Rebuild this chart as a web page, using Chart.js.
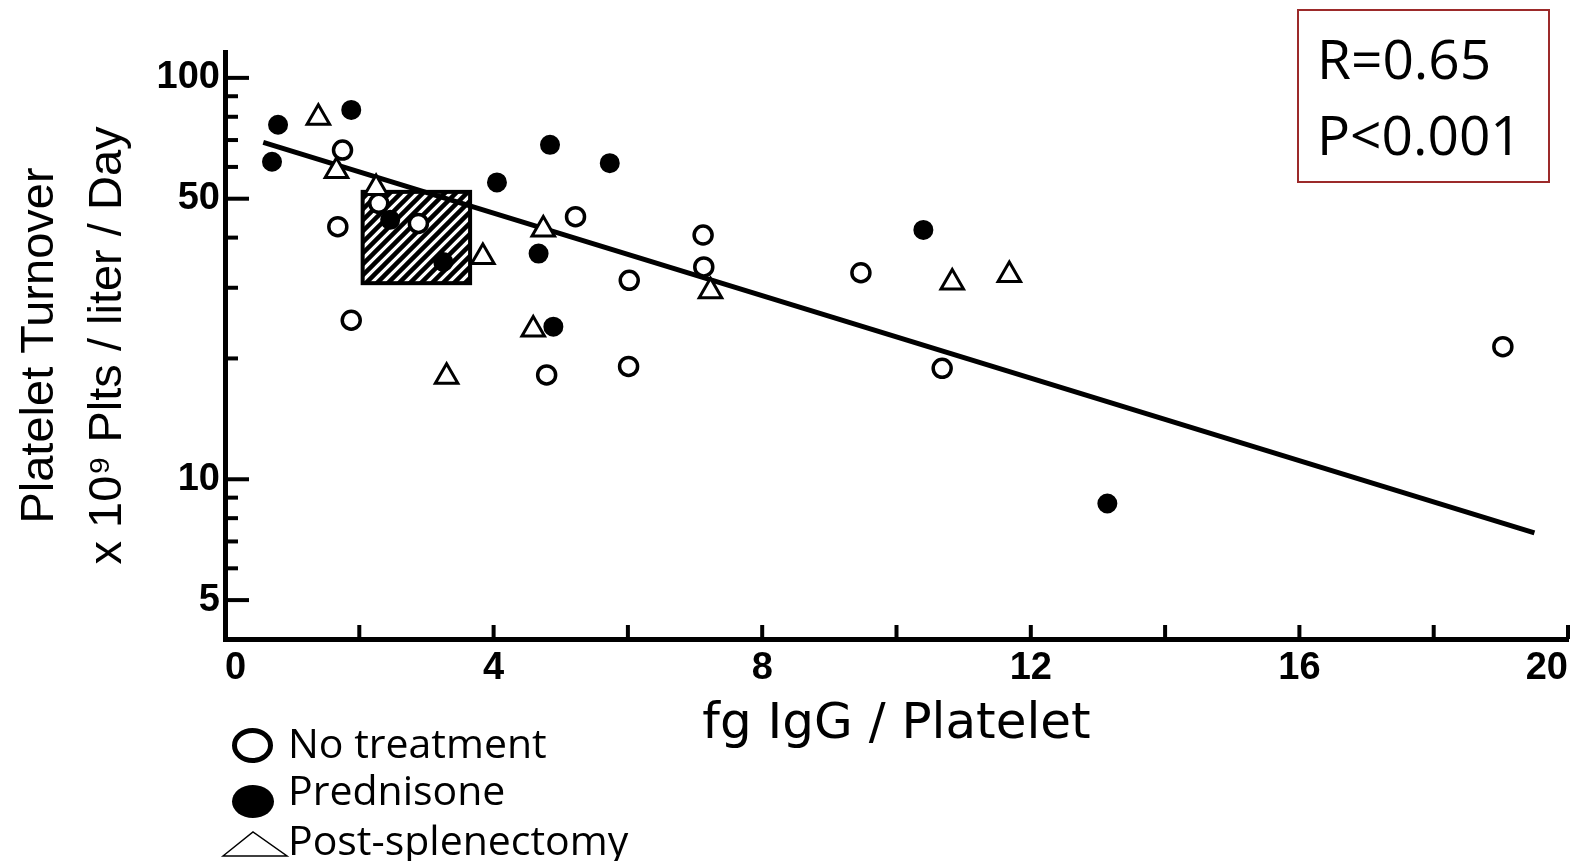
<!DOCTYPE html>
<html>
<head>
<meta charset="utf-8">
<title>Platelet turnover vs platelet IgG</title>
<script src="https://cdn.jsdelivr.net/npm/chart.js@4/dist/chart.umd.min.js"></script>
<style>
  html, body { margin: 0; padding: 0; background: #fff; }
  #wrap { position: relative; width: 1585px; height: 861px; overflow: hidden; }
  #plot { position: absolute; left: 0; top: 0; }
  #stats {
    position: absolute; left: 1297px; top: 9px; width: 253px; height: 174px;
    box-sizing: border-box; border: 2px solid #9c2a2a;
    padding: 9px 0 0 18px;
    font-family: 'Open Sans', sans-serif; font-size: 55px; line-height: 76px; color: #000;
  }
  .key {
    position: absolute; left: 288px;
    font-family: 'Open Sans', sans-serif; font-size: 41px; line-height: 56px; color: #000;
    white-space: nowrap;
  }
  #keyMarks { position: absolute; left: 0; top: 0; }
</style>
</head>
<body>
<div id="wrap">
  <canvas id="plot" width="1585" height="861"></canvas>
  <div id="stats"><div>R=0.65</div><div>P&lt;0.001</div></div>
  <svg id="keyMarks" width="1585" height="861">
    <ellipse cx="252.5" cy="745.5" rx="18" ry="15" fill="#fff" stroke="#000" stroke-width="5"/>
    <ellipse cx="253" cy="801.5" rx="21" ry="16.5" fill="#000"/>
    <polygon points="223,856 253,832 287,856" fill="#fff" stroke="#000" stroke-width="1.5"/>
  </svg>
  <div class="key" style="top:714px">No treatment</div>
  <div class="key" style="top:761px">Prednisone</div>
  <div class="key" style="top:811px">Post-splenectomy</div>
</div>
<script>
// values
const noTreatX = [1.75, 1.68, 1.88, 2.29, 2.88, 5.22, 6.02, 4.79, 6.01, 7.12, 7.13, 9.47, 10.68, 19.03];
const noTreatY = [66.1, 42.6, 24.9, 48.7, 43.4, 45.1, 31.3, 18.2, 19.1, 40.6, 33.8, 32.7, 18.9, 21.4];

const prednisoneX = [0.79, 0.70, 1.88, 2.46, 3.25, 4.05, 4.84, 5.73, 4.67, 4.89, 10.40, 13.14];
const prednisoneY = [76.4, 61.8, 83.2, 44.3, 34.8, 54.9, 68.1, 61.3, 36.5, 24.0, 41.8, 8.7];

const splenX = [1.39, 1.66, 2.25, 3.84, 4.74, 4.59, 3.30, 7.23, 10.83, 11.68];
const splenY = [79.5, 58.6, 53.2, 35.8, 41.9, 23.6, 18.0, 29.4, 30.9, 32.3];

// regression line end points
const fitX = [0.57, 19.5];
const fitY = [69.1, 7.35];

// hatched normal range
const boxX = [2.05, 3.65];
const boxY = [30.8, 52.0];

// axis ticks
const xTicks = [0, 2, 4, 6, 8, 10, 12, 14, 16, 18, 20];
const xLabels = [0, 4, 8, 12, 16, 20];
const yTicks = [5, 6, 7, 8, 9, 10, 20, 30, 40, 50, 60, 70, 80, 90, 100];
const yLabels = [5, 10, 50, 100];

const tickFont = { family: "'Liberation Sans', sans-serif", size: 38, weight: 'bold' };

function toPoints(xs, ys) {
  return xs.map((x, i) => ({ x: x, y: ys[i] }));
}

// diagonal "////" fill for the shaded box
function hatchPattern(ctx) {
  const c = document.createElement('canvas');
  c.width = 11;
  c.height = 11;
  const g = c.getContext('2d');
  g.strokeStyle = '#000';
  g.lineWidth = 4.5;
  g.beginPath();
  g.moveTo(-2, 13); g.lineTo(13, -2);
  g.moveTo(-6, 6); g.lineTo(6, -6);
  g.moveTo(5, 17); g.lineTo(17, 5);
  g.stroke();
  return ctx.createPattern(c, 'repeat');
}

const hatchBox = {
  id: 'hatchBox',
  beforeDatasetsDraw(chart) {
    const { ctx, scales: { x, y } } = chart;
    const left = x.getPixelForValue(boxX[0]);
    const right = x.getPixelForValue(boxX[1]);
    const top = y.getPixelForValue(boxY[1]);
    const bottom = y.getPixelForValue(boxY[0]);
    ctx.save();
    ctx.fillStyle = '#fff';
    ctx.fillRect(left, top, right - left, bottom - top);
    ctx.fillStyle = hatchPattern(ctx);
    ctx.fillRect(left, top, right - left, bottom - top);
    ctx.lineWidth = 4;
    ctx.strokeStyle = '#000';
    ctx.strokeRect(left, top, right - left, bottom - top);
    ctx.restore();
  }
};

// tick marks point into the plot, like the original
const insideTicks = {
  id: 'insideTicks',
  afterDraw(chart) {
    const { ctx, chartArea, scales: { x, y } } = chart;
    ctx.save();
    ctx.strokeStyle = '#000';
    ctx.lineWidth = 4;
    xTicks.forEach(v => {
      if (v === 0) return;
      const px = x.getPixelForValue(v);
      ctx.beginPath();
      ctx.moveTo(px, chartArea.bottom);
      ctx.lineTo(px, chartArea.bottom - 14);
      ctx.stroke();
    });
    yTicks.forEach(v => {
      const py = y.getPixelForValue(v);
      const len = yLabels.includes(v) ? 24 : 13;
      ctx.beginPath();
      ctx.moveTo(chartArea.left, py);
      ctx.lineTo(chartArea.left + len, py);
      ctx.stroke();
    });
    ctx.restore();
  }
};

const ctx = document.getElementById('plot').getContext('2d');
const chart = new Chart(ctx, {
  type: 'scatter',
  data: {
    datasets: [
      {
        label: 'Post-splenectomy',
        data: toPoints(splenX, splenY),
        pointStyle: 'triangle',
        pointRadius: 13,
        borderWidth: 3,
        borderColor: '#000',
        backgroundColor: '#fff'
      },
      {
        label: 'No treatment',
        data: toPoints(noTreatX, noTreatY),
        pointStyle: 'circle',
        pointRadius: 9,
        borderWidth: 3.5,
        borderColor: '#000',
        backgroundColor: '#fff'
      },
      {
        label: 'Prednisone',
        data: toPoints(prednisoneX, prednisoneY),
        pointStyle: 'circle',
        pointRadius: 9,
        borderWidth: 2,
        borderColor: '#000',
        backgroundColor: '#000'
      },
      {
        label: 'Regression',
        data: toPoints(fitX, fitY),
        showLine: true,
        borderColor: '#000',
        borderWidth: 5,
        pointRadius: 0
      }
    ]
  },
  options: {
    responsive: false,
    animation: false,
    layout: { padding: { top: 52, right: 17, bottom: 0, left: 0 } },
    plugins: {
      legend: { display: false },
      tooltip: { enabled: false }
    },
    scales: {
      x: {
        type: 'linear',
        position: 'bottom',
        min: 0,
        max: 20,
        afterBuildTicks: s => { s.ticks = xTicks.map(v => ({ value: v })); },
        afterFit: s => { s.height = 222; },
        ticks: {
          callback: v => xLabels.includes(v) ? String(v) : '',
          autoSkip: false,
          maxRotation: 0,
          align: 'inner',
          padding: 7,
          color: '#000',
          font: tickFont
        },
        grid: { display: false, drawTicks: false },
        border: { display: true, color: '#000', width: 5 },
        title: {
          display: true,
          text: 'fg IgG / Platelet',
          color: '#000',
          font: { family: "'DejaVu Sans', sans-serif", size: 50, lineHeight: 1.2 },
          padding: { top: 0, bottom: 106 }
        }
      },
      y: {
        type: 'logarithmic',
        position: 'left',
        min: 4,
        max: 116,
        afterBuildTicks: s => { s.ticks = yTicks.map(v => ({ value: v })); },
        afterFit: s => { s.width = 225; },
        ticks: {
          callback: v => yLabels.includes(v) ? String(v) : '',
          autoSkip: false,
          padding: 5,
          color: '#000',
          font: tickFont
        },
        grid: { display: false, drawTicks: false },
        border: { display: true, color: '#000', width: 5 },
        title: {
          display: true,
          text: ['Platelet Turnover', 'x 10⁹ Plts / liter / Day'],
          color: '#000',
          font: { family: "'Liberation Sans', sans-serif", size: 47, lineHeight: 1.447 },
          padding: { top: 6, bottom: 0 }
        }
      }
    }
  },
  plugins: [hatchBox, insideTicks]
});
</script>
</body>
</html>
